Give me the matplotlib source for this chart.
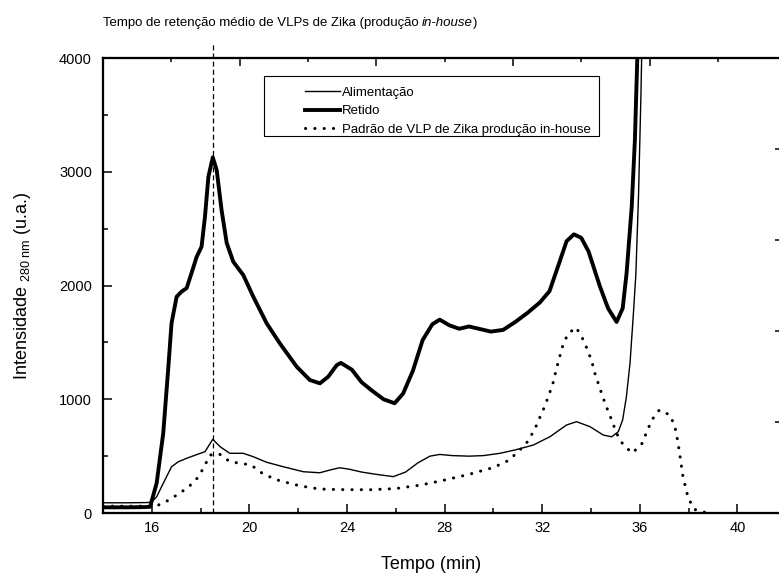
import matplotlib.pyplot as plt
from matplotlib.patches import Rectangle
from matplotlib.lines import Line2D
from matplotlib.ticker import MultipleLocator, NullFormatter

plt.rcParams['font.family'] = ['Liberation Sans', 'DejaVu Sans']
plt.rcParams['mathtext.fontset'] = 'custom'
plt.rcParams['mathtext.rm'] = 'Liberation Sans'
plt.rcParams['mathtext.it'] = 'Liberation Sans:italic'

# Retido (amostra retida)
t_ret = [14.0, 15.0, 15.7, 15.93, 16.2, 16.47, 16.68, 16.81, 17.02, 17.22, 17.43, 17.63,
         17.84, 18.04, 18.18, 18.32, 18.5, 18.66, 18.86, 19.07, 19.34, 19.75, 20.16, 20.71,
         21.25, 21.94, 22.48, 22.89, 23.23, 23.58, 23.75, 24.2, 24.6, 25.0, 25.5, 25.95,
         26.3, 26.7, 27.1, 27.5, 27.8, 28.2, 28.6, 29.0, 29.4, 29.9, 30.4, 30.9, 31.4,
         31.9, 32.3, 32.7, 33.0, 33.3, 33.6, 33.9, 34.37, 34.7, 35.05, 35.3, 35.46, 35.67,
         35.8, 35.9, 36.0]
i_ret = [50, 50, 52, 55, 263, 703, 1286, 1670, 1902, 1946, 1978, 2110,
         2253, 2341, 2605, 2956, 3127, 3015, 2664, 2374, 2209, 2092, 1902, 1667,
         1491, 1286, 1169, 1140, 1198, 1300, 1320, 1260, 1150, 1080, 1000, 965,
         1050, 1250, 1520, 1660, 1700, 1650, 1620, 1640, 1620, 1595, 1610, 1680, 1760,
         1850, 1950, 2200, 2390, 2450, 2420, 2300, 1990, 1800, 1680, 1800, 2110, 2693,
         3279, 4009, 4700]

# Alimentacao
t_ali = [14.0, 15.0, 15.8, 15.99, 16.2, 16.47, 16.81, 17.09, 17.43, 17.91, 18.18, 18.5,
         18.8, 19.2, 19.75, 20.16, 20.71, 21.39, 22.21, 22.89, 23.3, 23.7, 24.1, 24.6,
         25.2, 25.9, 26.4, 26.9, 27.4, 27.8, 28.3, 29.0, 29.6, 30.27, 30.9, 31.64, 32.32,
         33.0, 33.41, 33.96, 34.5, 34.85, 35.12, 35.3, 35.45, 35.6, 35.74, 35.84, 35.95,
         36.05, 36.12]
i_ali = [90, 90, 92, 95, 143, 261, 407, 451, 481, 519, 539, 648,
         583, 525, 525, 495, 446, 407, 363, 354, 378, 398, 385, 360,
         340, 320, 360, 440, 500, 515, 505, 500, 505, 525, 555, 598, 671,
         774, 803, 759, 686, 670, 715, 820, 1020, 1316, 1758, 2100, 2800,
         3700, 4500]

# Padrao de VLP de Zika
t_pad = [14.0, 15.0, 16.0, 16.27, 16.7, 17.13, 17.52, 17.92, 18.18, 18.39, 18.77, 19.2,
         19.64, 20.07, 20.5, 21.05, 21.5, 21.94, 22.41, 22.89, 23.37, 24.0, 25.0, 26.0,
         27.0, 28.0, 29.0, 30.0, 30.6, 31.02, 31.4, 31.7, 31.9, 32.11, 32.29, 32.46,
         32.57, 32.7, 32.84, 33.05, 33.39, 33.65, 33.85, 34.03, 34.16, 34.33, 34.49,
         34.67, 34.86, 35.05, 35.32, 35.69, 36.08, 36.28, 36.49, 36.8, 37.24, 37.44,
         37.54, 37.62, 37.69, 37.76, 37.87, 37.99, 38.24, 38.67]
i_pad = [60, 60, 60, 70, 114, 173, 231, 319, 422, 510, 519, 451,
         437, 422, 354, 296, 270, 246, 226, 211, 208, 205, 205, 215,
         245, 290, 340, 400, 460, 539, 627, 738, 838, 941, 1046, 1154,
         1257, 1360, 1468, 1574, 1632, 1536, 1439, 1336, 1228, 1119, 1017,
         914, 811, 700, 600, 527, 607, 709, 817, 905, 862, 759,
         651, 545, 437, 334, 231, 129, 32, 6]

t_medio = 18.5
rotulos = ['Alimentação', 'Retido', 'Padrão de VLP de Zika produção in-house']

fig = plt.figure(figsize=(7.79, 5.81), dpi=100)
ax = fig.add_axes([0.1322, 0.117, 0.877, 0.7831])

ax.plot(t_ali, i_ali, color='black', lw=1.0)
ax.plot(t_ret, i_ret, color='black', lw=2.8)
ax.plot(t_pad, i_pad, color='black', lw=2.2, linestyle=(0, (0.05, 3.0)),
        dash_capstyle='round')
ax.plot([t_medio, t_medio], [0, 4130], color='black', lw=0.9, dashes=(4, 2.5),
        clip_on=False)

ax.set_xlim(14, 42)
ax.set_ylim(0, 4000)
ax.xaxis.set_major_locator(MultipleLocator(4))
ax.xaxis.set_minor_locator(MultipleLocator(2))
ax.yaxis.set_major_locator(MultipleLocator(1000))
ax.yaxis.set_minor_locator(MultipleLocator(500))
ax.tick_params(which='both', direction='in', width=1.1, labelsize=10.5)
ax.tick_params(which='major', length=6.5)
ax.tick_params(which='minor', length=3.6)
ax.tick_params(axis='x', pad=6)
ax.tick_params(axis='y', pad=8)
ax.spines['right'].set_visible(False)
for s in ax.spines.values():
    s.set_linewidth(1.5)

# eixos auxiliares (topo e direita), apenas marcas
axt = ax.twiny()
axt.set_xlim(0, 5)
axt.xaxis.set_major_locator(MultipleLocator(1))
axt.xaxis.set_minor_locator(MultipleLocator(0.5))
axt.xaxis.set_major_formatter(NullFormatter())
axt.tick_params(which='both', direction='in', width=1.1, top=True, bottom=False)
axt.tick_params(which='major', length=6)
axt.tick_params(which='minor', length=3.2)
axr = ax.twinx()
axr.set_ylim(0, 5)
axr.yaxis.set_major_locator(MultipleLocator(1))
axr.yaxis.set_major_formatter(NullFormatter())
axr.tick_params(direction='in', width=1.1, length=8)
for a in (axt, axr):
    for s in a.spines.values():
        s.set_linewidth(1.5)

ax.set_xlabel('Tempo (min)', fontsize=13)
ax.xaxis.set_label_coords(0.48, -0.095)
ax.set_ylabel(r'Intensidade ${}_{\mathregular{280\ nm}}$ (u.a.)', fontsize=13)
ax.yaxis.set_label_coords(-0.103, 0.5)

# caixa da legenda
ax.add_patch(Rectangle((0.2357, 0.8286), 0.4905, 0.1319, transform=ax.transAxes,
                       fc='white', ec='black', lw=0.8, zorder=4))
handles = [Line2D([], [], color='black', lw=1.0),
           Line2D([], [], color='black', lw=2.8),
           Line2D([], [], color='black', lw=2.2, linestyle=(0, (0.05, 3.0)),
                  dash_capstyle='round')]
leg = ax.legend(handles, rotulos, loc='upper left', bbox_to_anchor=(0.2958, 0.9374),
                frameon=False, fontsize=9.5, handlelength=2.65, handletextpad=0.15,
                labelspacing=0.48, borderpad=0, borderaxespad=0)
leg.set_zorder(5)

t1 = fig.text(103 / 779, 1 - 29 / 581, 'Tempo de retenção médio de VLPs de Zika (produção',
              fontsize=9.5, va='bottom')
t2 = ax.annotate('in-house', xy=(1, 0), xycoords=t1, xytext=(2.6, 0),
                 textcoords='offset points', va='bottom', fontsize=9.5, style='italic')
ax.annotate(')', xy=(1, 0), xycoords=t2, va='bottom', fontsize=9.5)

fig.savefig('out.png', dpi=100)
